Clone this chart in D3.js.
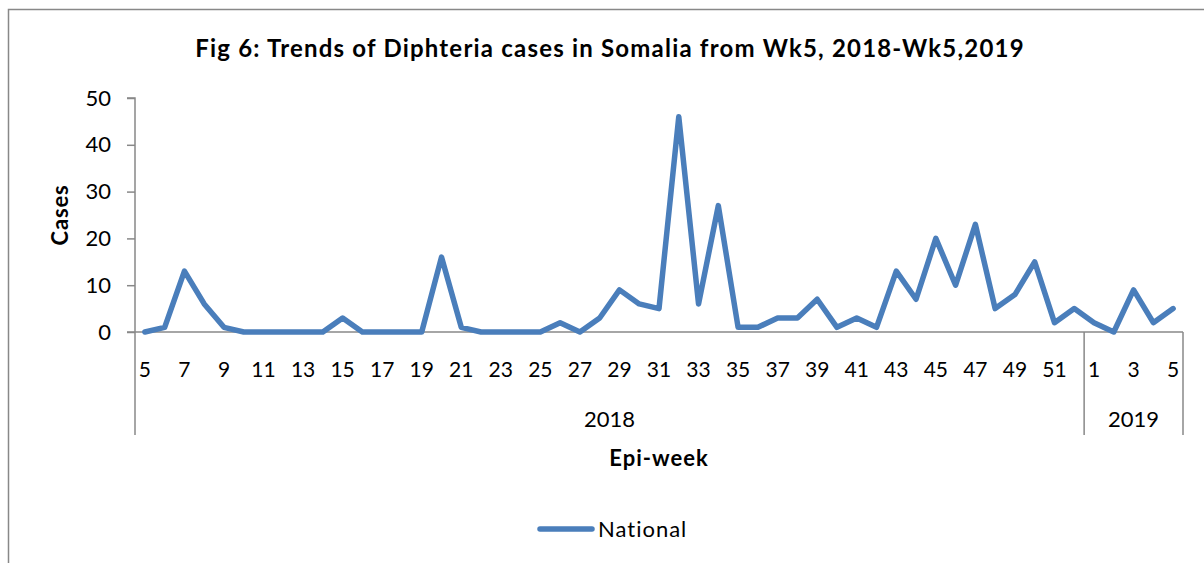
<!DOCTYPE html>
<html>
<head>
<meta charset="utf-8">
<script src="https://cdn.jsdelivr.net/npm/d3@7"></script>
<style>
  body { margin: 0; background: #fff; }
  svg { font-family: Lato, "Open Sans", sans-serif; }
</style>
</head>
<body>
<svg id="chart" width="1204" height="563"></svg>
<script>
// epi-weeks, 2018 wk5..wk52 then 2019 wk1..wk5
const weeks2018 = d3.range(5, 53);
const weeks2019 = [1, 2, 3, 4, 5];
const years = ["2018", "2019"];
const cases2018 = [0, 1, 13, 6, 1, 0, 0, 0, 0, 0, 3, 0, 0, 0, 0, 16, 1, 0, 0, 0, 0, 2, 0, 3, 9, 6, 5, 46, 6, 27,
  1, 1, 3, 3, 7, 1, 3, 1, 13, 7, 20, 10, 23, 5, 8, 15, 2, 5];
const cases2019 = [2, 0, 9, 2, 5];
const yTicks = [0, 10, 20, 30, 40, 50];

const data = weeks2018.map((w, i) => ({ year: "2018", week: w, value: cases2018[i] }))
  .concat(weeks2019.map((w, i) => ({ year: "2019", week: w, value: cases2019[i] })));

const plotL = 135, plotR = 1183, plotT = 98, plotB = 332;
const svg = d3.select("#chart");

// outer frame
svg.append("rect")
  .attr("x", 8.5).attr("y", 9.5).attr("width", 1220).attr("height", 600)
  .attr("fill", "none").attr("stroke", "#888").attr("stroke-width", 1.5);

const x = d3.scaleBand().domain(d3.range(data.length)).range([plotL, plotR]).padding(0);
const y = d3.scaleLinear().domain([0, 50]).range([plotB, plotT]);

// title
svg.append("text")
  .attr("x", 610).attr("y", 57)
  .attr("text-anchor", "middle")
  .attr("font-weight", "bold").attr("font-size", 24)
  .attr("letter-spacing", 1.2)
  .text("Fig 6: Trends of Diphteria cases in Somalia from Wk5, 2018-Wk5,2019");

// y axis
const yAxis = svg.append("g")
  .attr("transform", `translate(${plotL},0)`)
  .call(d3.axisLeft(y).tickValues(yTicks).tickSize(8).tickPadding(16));
yAxis.select(".domain").attr("stroke", "#888").attr("stroke-width", 1.5)
  .attr("d", `M-8,${plotT}H0V${plotB}`);
yAxis.selectAll(".tick line").attr("stroke", "#888").attr("stroke-width", 1.5);
yAxis.selectAll(".tick text").attr("font-size", 22).attr("fill", "#000")
  .attr("font-family", "Lato, sans-serif");

// x axis line
svg.append("line")
  .attr("x1", plotL - 8).attr("x2", plotR).attr("y1", plotB).attr("y2", plotB)
  .attr("stroke", "#888").attr("stroke-width", 1.5);

// week labels (every other one)
svg.append("g").selectAll("text")
  .data(data.filter(d => d.week % 2 === 1))
  .join("text")
  .attr("x", d => x(data.indexOf(d)) + x.bandwidth() / 2)
  .attr("y", 377)
  .attr("text-anchor", "middle")
  .attr("font-size", 21)
  .text(d => d.week);

// year group separators and labels
const yearStart = years.map(yr => data.findIndex(d => d.year === yr));
const bounds = yearStart.map(i => x(i)).concat([plotR]);
svg.append("g").selectAll("line")
  .data(bounds)
  .join("line")
  .attr("x1", d => d).attr("x2", d => d)
  .attr("y1", plotB).attr("y2", 435)
  .attr("stroke", "#888").attr("stroke-width", 1.5);
svg.append("g").selectAll("text")
  .data(years)
  .join("text")
  .attr("x", (d, i) => (bounds[i] + bounds[i + 1]) / 2)
  .attr("y", 427)
  .attr("text-anchor", "middle")
  .attr("font-size", 22)
  .text(d => d);

// axis titles
svg.append("text")
  .attr("transform", "translate(68,215) rotate(-90)")
  .attr("text-anchor", "middle")
  .attr("font-weight", "bold").attr("font-size", 22)
  .attr("letter-spacing", 0.8)
  .text("Cases");
svg.append("text")
  .attr("x", 659).attr("y", 466)
  .attr("text-anchor", "middle")
  .attr("font-weight", "bold").attr("font-size", 22)
  .attr("letter-spacing", 1)
  .text("Epi-week");

// line
const line = d3.line()
  .x((d, i) => x(i) + x.bandwidth() / 2)
  .y(d => y(d.value));
svg.append("path")
  .datum(data)
  .attr("fill", "none")
  .attr("stroke", "#4a7ebb")
  .attr("stroke-width", 5.5)
  .attr("stroke-linejoin", "round")
  .attr("stroke-linecap", "round")
  .attr("d", line);

// legend
svg.append("line")
  .attr("x1", 540).attr("x2", 592).attr("y1", 529).attr("y2", 529)
  .attr("stroke", "#4a7ebb").attr("stroke-width", 5.5).attr("stroke-linecap", "round");
svg.append("text")
  .attr("x", 598).attr("y", 537)
  .attr("font-size", 22)
  .attr("letter-spacing", 1)
  .text("National");
</script>
</body>
</html>
